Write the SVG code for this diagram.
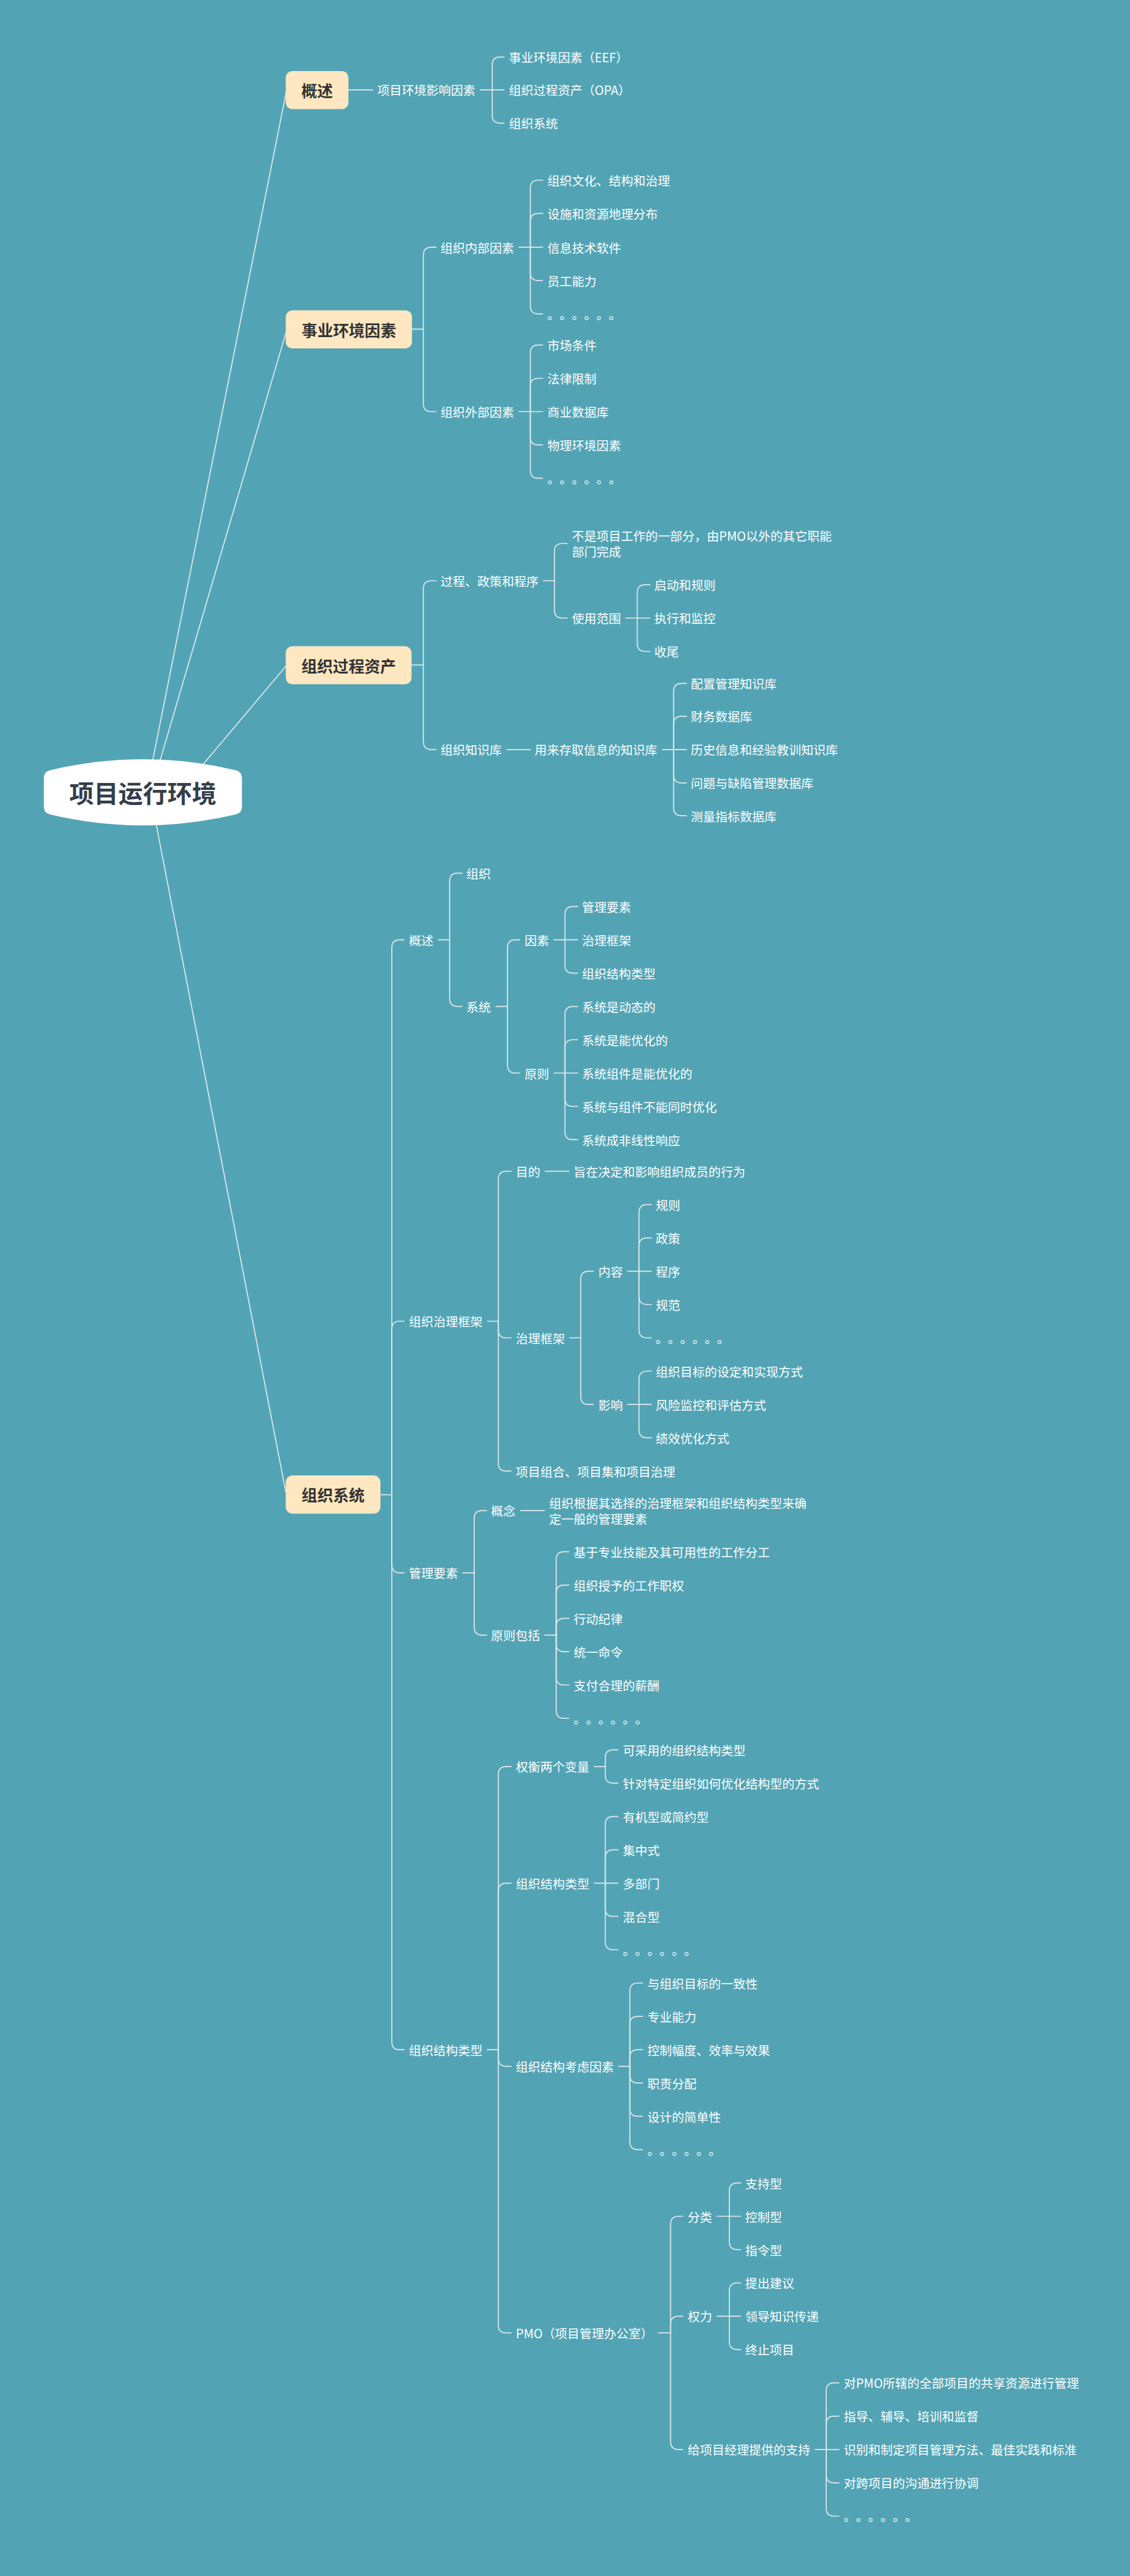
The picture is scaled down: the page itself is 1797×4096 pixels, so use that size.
<svg xmlns="http://www.w3.org/2000/svg" width="1797" height="4096" viewBox="0 0 1797 4096">
<style>
.t{font-family:"Noto Sans CJK SC","Noto Sans",sans-serif;font-size:28px;fill:#FFFFFF;dominant-baseline:central;text-spacing-trim:space-all}
.m{font-family:"Noto Sans CJK SC","Noto Sans",sans-serif;font-size:36px;font-weight:700;fill:#333333;dominant-baseline:central;text-anchor:middle}
.r{font-family:"Noto Sans CJK SC","Noto Sans",sans-serif;font-size:56px;font-weight:700;fill:#353D4A;dominant-baseline:central;text-anchor:middle}
.c path{fill:none;stroke:#E2E7EA;stroke-width:2.4;stroke-linecap:round}
.b{fill:#FFE7C1}
</style>
<rect x="0" y="0" width="1797" height="4096" fill="#52A4B5"/>
<g transform="scale(0.697)">
<g id="connectors" class="c">
<path d="M 334 1807 L 653 210"/>
<path d="M 344 1807 L 653 757"/>
<path d="M 410 1807 L 652 1520"/>
<path d="M 342 1807 L 652 3403"/>
<path d="M 795 205 H 850"/>
<path d="M 1096 205 H 1123"/>
<path d="M 1123 205 V 148 Q 1123 130 1141 130 H 1150"/>
<path d="M 1123 205 H 1150"/>
<path d="M 1123 205 V 263 Q 1123 281 1141 281 H 1150"/>
<path d="M 940 751 H 966"/>
<path d="M 966 751 V 582 Q 966 564 984 564 H 995"/>
<path d="M 966 751 V 921 Q 966 939 984 939 H 995"/>
<path d="M 1184 564 H 1210"/>
<path d="M 1210 564 V 429 Q 1210 411 1228 411 H 1238"/>
<path d="M 1210 564 V 505 Q 1210 487 1228 487 H 1238"/>
<path d="M 1210 564 H 1238"/>
<path d="M 1210 564 V 622 Q 1210 640 1228 640 H 1238"/>
<path d="M 1210 564 V 698 Q 1210 716 1228 716 H 1238"/>
<path d="M 1184 939 H 1210"/>
<path d="M 1210 939 V 805 Q 1210 787 1228 787 H 1238"/>
<path d="M 1210 939 V 881 Q 1210 863 1228 863 H 1238"/>
<path d="M 1210 939 H 1238"/>
<path d="M 1210 939 V 997 Q 1210 1015 1228 1015 H 1238"/>
<path d="M 1210 939 V 1073 Q 1210 1091 1228 1091 H 1238"/>
<path d="M 939 1517 H 966"/>
<path d="M 966 1517 V 1343 Q 966 1325 984 1325 H 995"/>
<path d="M 966 1517 V 1692 Q 966 1710 984 1710 H 995"/>
<path d="M 1240 1325 H 1265"/>
<path d="M 1265 1325 V 1258 Q 1265 1240 1283 1240 H 1294"/>
<path d="M 1265 1325 V 1392 Q 1265 1410 1283 1410 H 1294"/>
<path d="M 1428 1410 H 1454"/>
<path d="M 1454 1410 V 1352 Q 1454 1334 1472 1334 H 1483"/>
<path d="M 1454 1410 H 1483"/>
<path d="M 1454 1410 V 1468 Q 1454 1486 1472 1486 H 1483"/>
<path d="M 1156 1710 H 1210"/>
<path d="M 1511 1710 H 1537"/>
<path d="M 1537 1710 V 1577 Q 1537 1559 1555 1559 H 1566"/>
<path d="M 1537 1710 V 1652 Q 1537 1634 1555 1634 H 1566"/>
<path d="M 1537 1710 H 1566"/>
<path d="M 1537 1710 V 1768 Q 1537 1786 1555 1786 H 1566"/>
<path d="M 1537 1710 V 1843 Q 1537 1861 1555 1861 H 1566"/>
<path d="M 868 3410 H 894"/>
<path d="M 894 3410 V 2162 Q 894 2144 912 2144 H 922"/>
<path d="M 894 3410 V 3032 Q 894 3014 912 3014 H 922"/>
<path d="M 894 3410 V 3570 Q 894 3588 912 3588 H 922"/>
<path d="M 894 3410 V 4658 Q 894 4676 912 4676 H 922"/>
<path d="M 1000 2144 H 1026"/>
<path d="M 1026 2144 V 2010 Q 1026 1992 1044 1992 H 1054"/>
<path d="M 1026 2144 V 2278 Q 1026 2296 1044 2296 H 1054"/>
<path d="M 1132 2296 H 1158"/>
<path d="M 1158 2296 V 2162 Q 1158 2144 1176 2144 H 1186"/>
<path d="M 1158 2296 V 2430 Q 1158 2448 1176 2448 H 1186"/>
<path d="M 1264 2144 H 1289"/>
<path d="M 1289 2144 V 2086 Q 1289 2068 1307 2068 H 1318"/>
<path d="M 1289 2144 H 1318"/>
<path d="M 1289 2144 V 2202 Q 1289 2220 1307 2220 H 1318"/>
<path d="M 1264 2448 H 1289"/>
<path d="M 1289 2448 V 2314 Q 1289 2296 1307 2296 H 1318"/>
<path d="M 1289 2448 V 2390 Q 1289 2372 1307 2372 H 1318"/>
<path d="M 1289 2448 H 1318"/>
<path d="M 1289 2448 V 2506 Q 1289 2524 1307 2524 H 1318"/>
<path d="M 1289 2448 V 2582 Q 1289 2600 1307 2600 H 1318"/>
<path d="M 1112 3014 H 1137"/>
<path d="M 1137 3014 V 2690 Q 1137 2672 1155 2672 H 1166"/>
<path d="M 1137 3014 V 3034 Q 1137 3052 1155 3052 H 1166"/>
<path d="M 1137 3014 V 3338 Q 1137 3356 1155 3356 H 1166"/>
<path d="M 1244 2672 H 1298"/>
<path d="M 1300 3052 H 1325"/>
<path d="M 1325 3052 V 2918 Q 1325 2900 1343 2900 H 1354"/>
<path d="M 1325 3052 V 3186 Q 1325 3204 1343 3204 H 1354"/>
<path d="M 1432 2900 H 1458"/>
<path d="M 1458 2900 V 2766 Q 1458 2748 1476 2748 H 1486"/>
<path d="M 1458 2900 V 2842 Q 1458 2824 1476 2824 H 1486"/>
<path d="M 1458 2900 H 1486"/>
<path d="M 1458 2900 V 2958 Q 1458 2976 1476 2976 H 1486"/>
<path d="M 1458 2900 V 3034 Q 1458 3052 1476 3052 H 1486"/>
<path d="M 1432 3204 H 1458"/>
<path d="M 1458 3204 V 3146 Q 1458 3128 1476 3128 H 1486"/>
<path d="M 1458 3204 H 1486"/>
<path d="M 1458 3204 V 3262 Q 1458 3280 1476 3280 H 1486"/>
<path d="M 1056 3588 H 1082"/>
<path d="M 1082 3588 V 3464 Q 1082 3446 1100 3446 H 1110"/>
<path d="M 1082 3588 V 3712 Q 1082 3730 1100 3730 H 1110"/>
<path d="M 1188 3446 H 1242"/>
<path d="M 1243 3730 H 1269"/>
<path d="M 1269 3730 V 3558 Q 1269 3540 1287 3540 H 1298"/>
<path d="M 1269 3730 V 3634 Q 1269 3616 1287 3616 H 1298"/>
<path d="M 1269 3730 V 3710 Q 1269 3692 1287 3692 H 1298"/>
<path d="M 1269 3730 V 3750 Q 1269 3768 1287 3768 H 1298"/>
<path d="M 1269 3730 V 3826 Q 1269 3844 1287 3844 H 1298"/>
<path d="M 1269 3730 V 3902 Q 1269 3920 1287 3920 H 1298"/>
<path d="M 1112 4676 H 1137"/>
<path d="M 1137 4676 V 4048 Q 1137 4030 1155 4030 H 1166"/>
<path d="M 1137 4676 V 4314 Q 1137 4296 1155 4296 H 1166"/>
<path d="M 1137 4676 V 4696 Q 1137 4714 1155 4714 H 1166"/>
<path d="M 1137 4676 V 5304 Q 1137 5322 1155 5322 H 1166"/>
<path d="M 1356 4030 H 1381"/>
<path d="M 1381 4030 V 4010 Q 1381 3992 1399 3992 H 1410"/>
<path d="M 1381 4030 V 4050 Q 1381 4068 1399 4068 H 1410"/>
<path d="M 1356 4296 H 1381"/>
<path d="M 1381 4296 V 4162 Q 1381 4144 1399 4144 H 1410"/>
<path d="M 1381 4296 V 4238 Q 1381 4220 1399 4220 H 1410"/>
<path d="M 1381 4296 H 1410"/>
<path d="M 1381 4296 V 4354 Q 1381 4372 1399 4372 H 1410"/>
<path d="M 1381 4296 V 4430 Q 1381 4448 1399 4448 H 1410"/>
<path d="M 1412 4714 H 1437"/>
<path d="M 1437 4714 V 4542 Q 1437 4524 1455 4524 H 1466"/>
<path d="M 1437 4714 V 4618 Q 1437 4600 1455 4600 H 1466"/>
<path d="M 1437 4714 V 4694 Q 1437 4676 1455 4676 H 1466"/>
<path d="M 1437 4714 V 4734 Q 1437 4752 1455 4752 H 1466"/>
<path d="M 1437 4714 V 4810 Q 1437 4828 1455 4828 H 1466"/>
<path d="M 1437 4714 V 4886 Q 1437 4904 1455 4904 H 1466"/>
<path d="M 1503 5322 H 1530"/>
<path d="M 1530 5322 V 5074 Q 1530 5056 1548 5056 H 1558"/>
<path d="M 1530 5322 V 5302 Q 1530 5284 1548 5284 H 1558"/>
<path d="M 1530 5322 V 5570 Q 1530 5588 1548 5588 H 1558"/>
<path d="M 1636 5056 H 1664"/>
<path d="M 1664 5056 V 4998 Q 1664 4980 1682 4980 H 1690"/>
<path d="M 1664 5056 H 1690"/>
<path d="M 1664 5056 V 5114 Q 1664 5132 1682 5132 H 1690"/>
<path d="M 1636 5284 H 1664"/>
<path d="M 1664 5284 V 5226 Q 1664 5208 1682 5208 H 1690"/>
<path d="M 1664 5284 H 1690"/>
<path d="M 1664 5284 V 5342 Q 1664 5360 1682 5360 H 1690"/>
<path d="M 1860 5588 H 1885"/>
<path d="M 1885 5588 V 5454 Q 1885 5436 1903 5436 H 1914"/>
<path d="M 1885 5588 V 5530 Q 1885 5512 1903 5512 H 1914"/>
<path d="M 1885 5588 H 1914"/>
<path d="M 1885 5588 V 5646 Q 1885 5664 1903 5664 H 1914"/>
<path d="M 1885 5588 V 5722 Q 1885 5740 1903 5740 H 1914"/>
</g>
<g id="root">
<path d="M 114 1757 Q 326 1707 538 1757 Q 552 1761 552 1774 L 552 1841 Q 552 1854 538 1858 Q 326 1908 114 1858 Q 100 1854 100 1841 L 100 1774 Q 100 1761 114 1757 Z" fill="#FFFFFF"/>
<text class="r" x="326" y="1807">项目运行环境</text>
</g>
<g id="m1"><rect class="b" x="652" y="162" width="143" height="87" rx="15"/><text class="m" x="723.5" y="205.5">概述</text></g>
<g id="m2"><rect class="b" x="652" y="708" width="288" height="87" rx="15"/><text class="m" x="796" y="751.5">事业环境因素</text></g>
<g id="m3"><rect class="b" x="652" y="1474" width="287" height="87" rx="15"/><text class="m" x="795.5" y="1517.5">组织过程资产</text></g>
<g id="m4"><rect class="b" x="652" y="3366" width="216" height="87" rx="15"/><text class="m" x="760" y="3409.5">组织系统</text></g>
<g id="n1"><text class="t" x="861" y="205">项目环境影响因素</text></g>
<g id="n2"><text class="t" x="1161" y="130">事业环境因素（EEF）</text></g>
<g id="n3"><text class="t" x="1161" y="205">组织过程资产（OPA）</text></g>
<g id="n4"><text class="t" x="1161" y="281">组织系统</text></g>
<g id="n5"><text class="t" x="1005" y="564">组织内部因素</text></g>
<g id="n6"><text class="t" x="1005" y="939">组织外部因素</text></g>
<g id="n7"><text class="t" x="1249" y="411">组织文化、结构和治理</text></g>
<g id="n8"><text class="t" x="1249" y="487">设施和资源地理分布</text></g>
<g id="n9"><text class="t" x="1249" y="564">信息技术软件</text></g>
<g id="n10"><text class="t" x="1249" y="640">员工能力</text></g>
<g id="n11"><text class="t" x="1249 1277 1305 1333 1361 1389" y="716">。。。。。。</text></g>
<g id="n12"><text class="t" x="1249" y="787">市场条件</text></g>
<g id="n13"><text class="t" x="1249" y="863">法律限制</text></g>
<g id="n14"><text class="t" x="1249" y="939">商业数据库</text></g>
<g id="n15"><text class="t" x="1249" y="1015">物理环境因素</text></g>
<g id="n16"><text class="t" x="1249 1277 1305 1333 1361 1389" y="1091">。。。。。。</text></g>
<g id="n17"><text class="t" x="1005" y="1325">过程、政策和程序</text></g>
<g id="n18"><text class="t" x="1005" y="1710">组织知识库</text></g>
<g id="n19"><text class="t" x="1305" y="1222">不是项目工作的一部分，由PMO以外的其它职能</text><text class="t" x="1305" y="1258">部门完成</text></g>
<g id="n20"><text class="t" x="1305" y="1410">使用范围</text></g>
<g id="n21"><text class="t" x="1493" y="1334">启动和规则</text></g>
<g id="n22"><text class="t" x="1493" y="1410">执行和监控</text></g>
<g id="n23"><text class="t" x="1493" y="1486">收尾</text></g>
<g id="n24"><text class="t" x="1220" y="1710">用来存取信息的知识库</text></g>
<g id="n25"><text class="t" x="1576" y="1559">配置管理知识库</text></g>
<g id="n26"><text class="t" x="1576" y="1634">财务数据库</text></g>
<g id="n27"><text class="t" x="1576" y="1710">历史信息和经验教训知识库</text></g>
<g id="n28"><text class="t" x="1576" y="1786">问题与缺陷管理数据库</text></g>
<g id="n29"><text class="t" x="1576" y="1861">测量指标数据库</text></g>
<g id="n30"><text class="t" x="933" y="2144">概述</text></g>
<g id="n31"><text class="t" x="1064" y="1992">组织</text></g>
<g id="n32"><text class="t" x="1064" y="2296">系统</text></g>
<g id="n33"><text class="t" x="1197" y="2144">因素</text></g>
<g id="n34"><text class="t" x="1197" y="2448">原则</text></g>
<g id="n35"><text class="t" x="1328" y="2068">管理要素</text></g>
<g id="n36"><text class="t" x="1328" y="2144">治理框架</text></g>
<g id="n37"><text class="t" x="1328" y="2220">组织结构类型</text></g>
<g id="n38"><text class="t" x="1328" y="2296">系统是动态的</text></g>
<g id="n39"><text class="t" x="1328" y="2372">系统是能优化的</text></g>
<g id="n40"><text class="t" x="1328" y="2448">系统组件是能优化的</text></g>
<g id="n41"><text class="t" x="1328" y="2524">系统与组件不能同时优化</text></g>
<g id="n42"><text class="t" x="1328" y="2600">系统成非线性响应</text></g>
<g id="n43"><text class="t" x="933" y="3014">组织治理框架</text></g>
<g id="n44"><text class="t" x="1177" y="2672">目的</text></g>
<g id="n45"><text class="t" x="1309" y="2672">旨在决定和影响组织成员的行为</text></g>
<g id="n46"><text class="t" x="1177" y="3052">治理框架</text></g>
<g id="n47"><text class="t" x="1365" y="2900">内容</text></g>
<g id="n48"><text class="t" x="1365" y="3204">影响</text></g>
<g id="n49"><text class="t" x="1496" y="2748">规则</text></g>
<g id="n50"><text class="t" x="1496" y="2824">政策</text></g>
<g id="n51"><text class="t" x="1496" y="2900">程序</text></g>
<g id="n52"><text class="t" x="1496" y="2976">规范</text></g>
<g id="n53"><text class="t" x="1496 1524 1552 1580 1608 1636" y="3052">。。。。。。</text></g>
<g id="n54"><text class="t" x="1496" y="3128">组织目标的设定和实现方式</text></g>
<g id="n55"><text class="t" x="1496" y="3204">风险监控和评估方式</text></g>
<g id="n56"><text class="t" x="1496" y="3280">绩效优化方式</text></g>
<g id="n57"><text class="t" x="1177" y="3356">项目组合、项目集和项目治理</text></g>
<g id="n58"><text class="t" x="933" y="3588">管理要素</text></g>
<g id="n59"><text class="t" x="1120" y="3446">概念</text></g>
<g id="n60"><text class="t" x="1253" y="3428">组织根据其选择的治理框架和组织结构类型来确</text><text class="t" x="1253" y="3464">定一般的管理要素</text></g>
<g id="n61"><text class="t" x="1120" y="3730">原则包括</text></g>
<g id="n62"><text class="t" x="1309" y="3540">基于专业技能及其可用性的工作分工</text></g>
<g id="n63"><text class="t" x="1309" y="3616">组织授予的工作职权</text></g>
<g id="n64"><text class="t" x="1309" y="3692">行动纪律</text></g>
<g id="n65"><text class="t" x="1309" y="3768">统一命令</text></g>
<g id="n66"><text class="t" x="1309" y="3844">支付合理的薪酬</text></g>
<g id="n67"><text class="t" x="1309 1337 1365 1393 1421 1449" y="3920">。。。。。。</text></g>
<g id="n68"><text class="t" x="933" y="4676">组织结构类型</text></g>
<g id="n69"><text class="t" x="1177" y="4030">权衡两个变量</text></g>
<g id="n70"><text class="t" x="1421" y="3992">可采用的组织结构类型</text></g>
<g id="n71"><text class="t" x="1421" y="4068">针对特定组织如何优化结构型的方式</text></g>
<g id="n72"><text class="t" x="1177" y="4296">组织结构类型</text></g>
<g id="n73"><text class="t" x="1421" y="4144">有机型或简约型</text></g>
<g id="n74"><text class="t" x="1421" y="4220">集中式</text></g>
<g id="n75"><text class="t" x="1421" y="4296">多部门</text></g>
<g id="n76"><text class="t" x="1421" y="4372">混合型</text></g>
<g id="n77"><text class="t" x="1421 1449 1477 1505 1533 1561" y="4448">。。。。。。</text></g>
<g id="n78"><text class="t" x="1177" y="4714">组织结构考虑因素</text></g>
<g id="n79"><text class="t" x="1477" y="4524">与组织目标的一致性</text></g>
<g id="n80"><text class="t" x="1477" y="4600">专业能力</text></g>
<g id="n81"><text class="t" x="1477" y="4676">控制幅度、效率与效果</text></g>
<g id="n82"><text class="t" x="1477" y="4752">职责分配</text></g>
<g id="n83"><text class="t" x="1477" y="4828">设计的简单性</text></g>
<g id="n84"><text class="t" x="1477 1505 1533 1561 1589 1617" y="4904">。。。。。。</text></g>
<g id="n85"><text class="t" x="1177" y="5322">PMO（项目管理办公室）</text></g>
<g id="n86"><text class="t" x="1569" y="5056">分类</text></g>
<g id="n87"><text class="t" x="1569" y="5284">权力</text></g>
<g id="n88"><text class="t" x="1569" y="5588">给项目经理提供的支持</text></g>
<g id="n89"><text class="t" x="1700" y="4980">支持型</text></g>
<g id="n90"><text class="t" x="1700" y="5056">控制型</text></g>
<g id="n91"><text class="t" x="1700" y="5132">指令型</text></g>
<g id="n92"><text class="t" x="1700" y="5208">提出建议</text></g>
<g id="n93"><text class="t" x="1700" y="5284">领导知识传递</text></g>
<g id="n94"><text class="t" x="1700" y="5360">终止项目</text></g>
<g id="n95"><text class="t" x="1925" y="5436">对PMO所辖的全部项目的共享资源进行管理</text></g>
<g id="n96"><text class="t" x="1925" y="5512">指导、辅导、培训和监督</text></g>
<g id="n97"><text class="t" x="1925" y="5588">识别和制定项目管理方法、最佳实践和标准</text></g>
<g id="n98"><text class="t" x="1925" y="5664">对跨项目的沟通进行协调</text></g>
<g id="n99"><text class="t" x="1925 1953 1981 2009 2037 2065" y="5740">。。。。。。</text></g>
</g>
</svg>
